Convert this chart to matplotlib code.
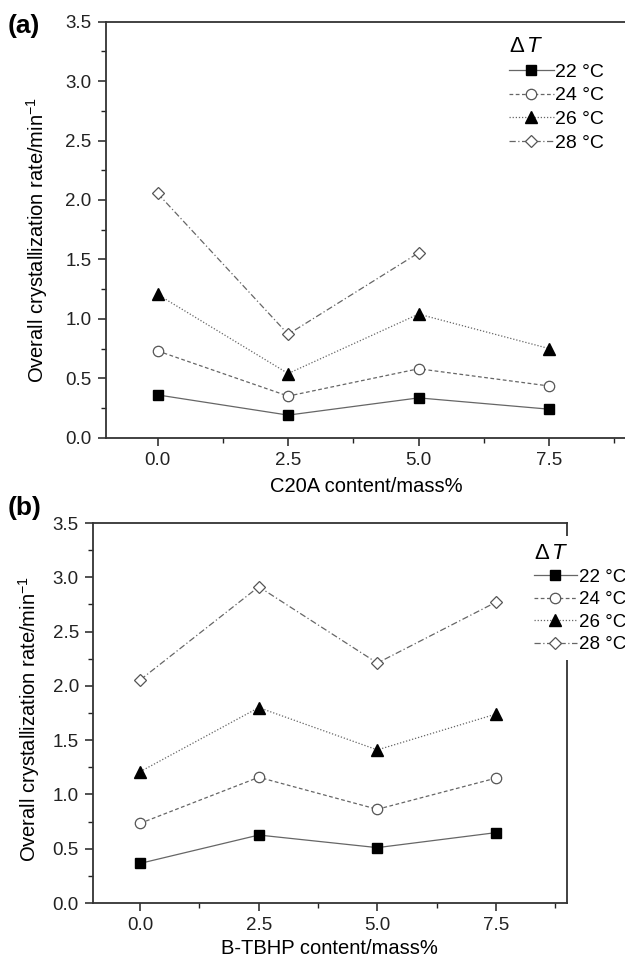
import matplotlib
matplotlib.use("Agg")
import matplotlib.pyplot as plt
from matplotlib.ticker import MultipleLocator, FormatStrFormatter

plt.rcParams['font.family'] = ['Liberation Sans', 'DejaVu Sans']
plt.rcParams['mathtext.fontset'] = 'custom'
plt.rcParams['mathtext.rm'] = 'Liberation Sans'
plt.rcParams['mathtext.it'] = 'Liberation Sans:italic'

# ---- data ----
content = [0.0, 2.5, 5.0, 7.5]
labels = ["22 °C", "24 °C", "26 °C", "28 °C"]

a_22 = [0.36, 0.19, 0.335, 0.24]
a_24 = [0.73, 0.35, 0.58, 0.435]
a_26 = [1.205, 0.54, 1.04, 0.75]
a_28_x = [0.0, 2.5, 5.0]
a_28 = [2.055, 0.87, 1.555]

b_22 = [0.365, 0.626, 0.51, 0.648]
b_24 = [0.734, 1.158, 0.863, 1.15]
b_26 = [1.21, 1.80, 1.41, 1.74]
b_28 = [2.055, 2.913, 2.21, 2.77]

xlabel_a = "C20A content/mass%"
xlabel_b = "B-TBHP content/mass%"
ylabel = "Overall crystallization rate/min$^{-1}$"

W, H = 625, 958
fig = plt.figure(figsize=(W / 100, H / 100), dpi=100)

def px_axes(l, r, top, bottom):
    return fig.add_axes([l / W, 1 - bottom / H, (r - l) / W, (bottom - top) / H])

ax_a = px_axes(105.5, 627.3, 21.7, 437.7)
ax_b = px_axes(92.8, 567.0, 523.0, 903.0)

line_c = '#666666'
styles = [
    dict(ls='-', marker='s', mfc='black', mec='black', ms=6.5),
    dict(ls=(0, (3, 2)), marker='o', mfc='white', mec='#555555', ms=7.5, mew=0.9),
    dict(ls=(0, (1, 1.5)), marker='^', mfc='black', mec='black', ms=8),
    dict(ls=(0, (5, 2, 1, 2)), marker='D', mfc='white', mec='#555555', ms=6.5, mew=0.9),
]

def draw(ax, series, xs_list):
    hs = []
    for xs, ys, st in zip(xs_list, series, styles):
        h, = ax.plot(xs, ys, color=line_c, lw=0.9, **st)
        hs.append(h)
    return hs

def style_axes(ax, xlabel, ylab_xy, xlabpad):
    ax.set_xlim(-1, 9)
    ax.set_ylim(0, 3.5)
    ax.xaxis.set_major_locator(MultipleLocator(2.5))
    ax.xaxis.set_minor_locator(MultipleLocator(1.25))
    ax.yaxis.set_major_locator(MultipleLocator(0.5))
    ax.yaxis.set_minor_locator(MultipleLocator(0.25))
    ax.xaxis.set_major_formatter(FormatStrFormatter('%.1f'))
    ax.yaxis.set_major_formatter(FormatStrFormatter('%.1f'))
    ax.tick_params(which='major', direction='out', length=6, width=1.1, labelsize=13.5, colors='#222222', pad=4)
    ax.tick_params(which='minor', direction='out', length=3.5, width=1.0, colors='#222222')
    ax.tick_params(top=False, right=False, which='both')
    for s in ax.spines.values():
        s.set_linewidth(1.3)
        s.set_color('#333333')
    ax.set_xlabel(xlabel, fontsize=14.5, labelpad=xlabpad)
    ax.set_ylabel(ylabel, fontsize=14.5)
    ax.yaxis.set_label_coords(*ylab_xy)

ha = draw(ax_a, [a_22, a_24, a_26, a_28], [content, content, content, a_28_x])
hb = draw(ax_b, [b_22, b_24, b_26, b_28], [content, content, content, content])
style_axes(ax_a, xlabel_a, (-0.106, 0.475), 6)
style_axes(ax_b, xlabel_b, (-0.107, 0.484), 4)

def legend(ax, hs, x, y, fs, lsp):
    leg = ax.legend(hs, labels, title=r"$\Delta\,T$", loc='upper left',
                    bbox_to_anchor=(x / W, 1 - y / H), bbox_transform=fig.transFigure,
                    fontsize=fs, title_fontsize=16, frameon=True, fancybox=False,
                    borderpad=0.35, handlelength=2.3, handletextpad=0.1,
                    labelspacing=lsp, borderaxespad=0, alignment='left')
    fr = leg.get_frame()
    fr.set_facecolor('white')
    fr.set_edgecolor('none')
    fr.set_alpha(1)
    leg.set_zorder(10)
    return leg

legend(ax_a, ha, 502, 29, 14, 0.32)
legend(ax_b, hb, 527, 536, 13.5, 0.28)

fig.text(8 / W, 1 - 26 / H, "(a)", fontsize=19, fontweight='bold', va='center', ha='left')
fig.text(8 / W, 1 - 508 / H, "(b)", fontsize=19, fontweight='bold', va='center', ha='left')

fig.savefig("out.png", dpi=100)
